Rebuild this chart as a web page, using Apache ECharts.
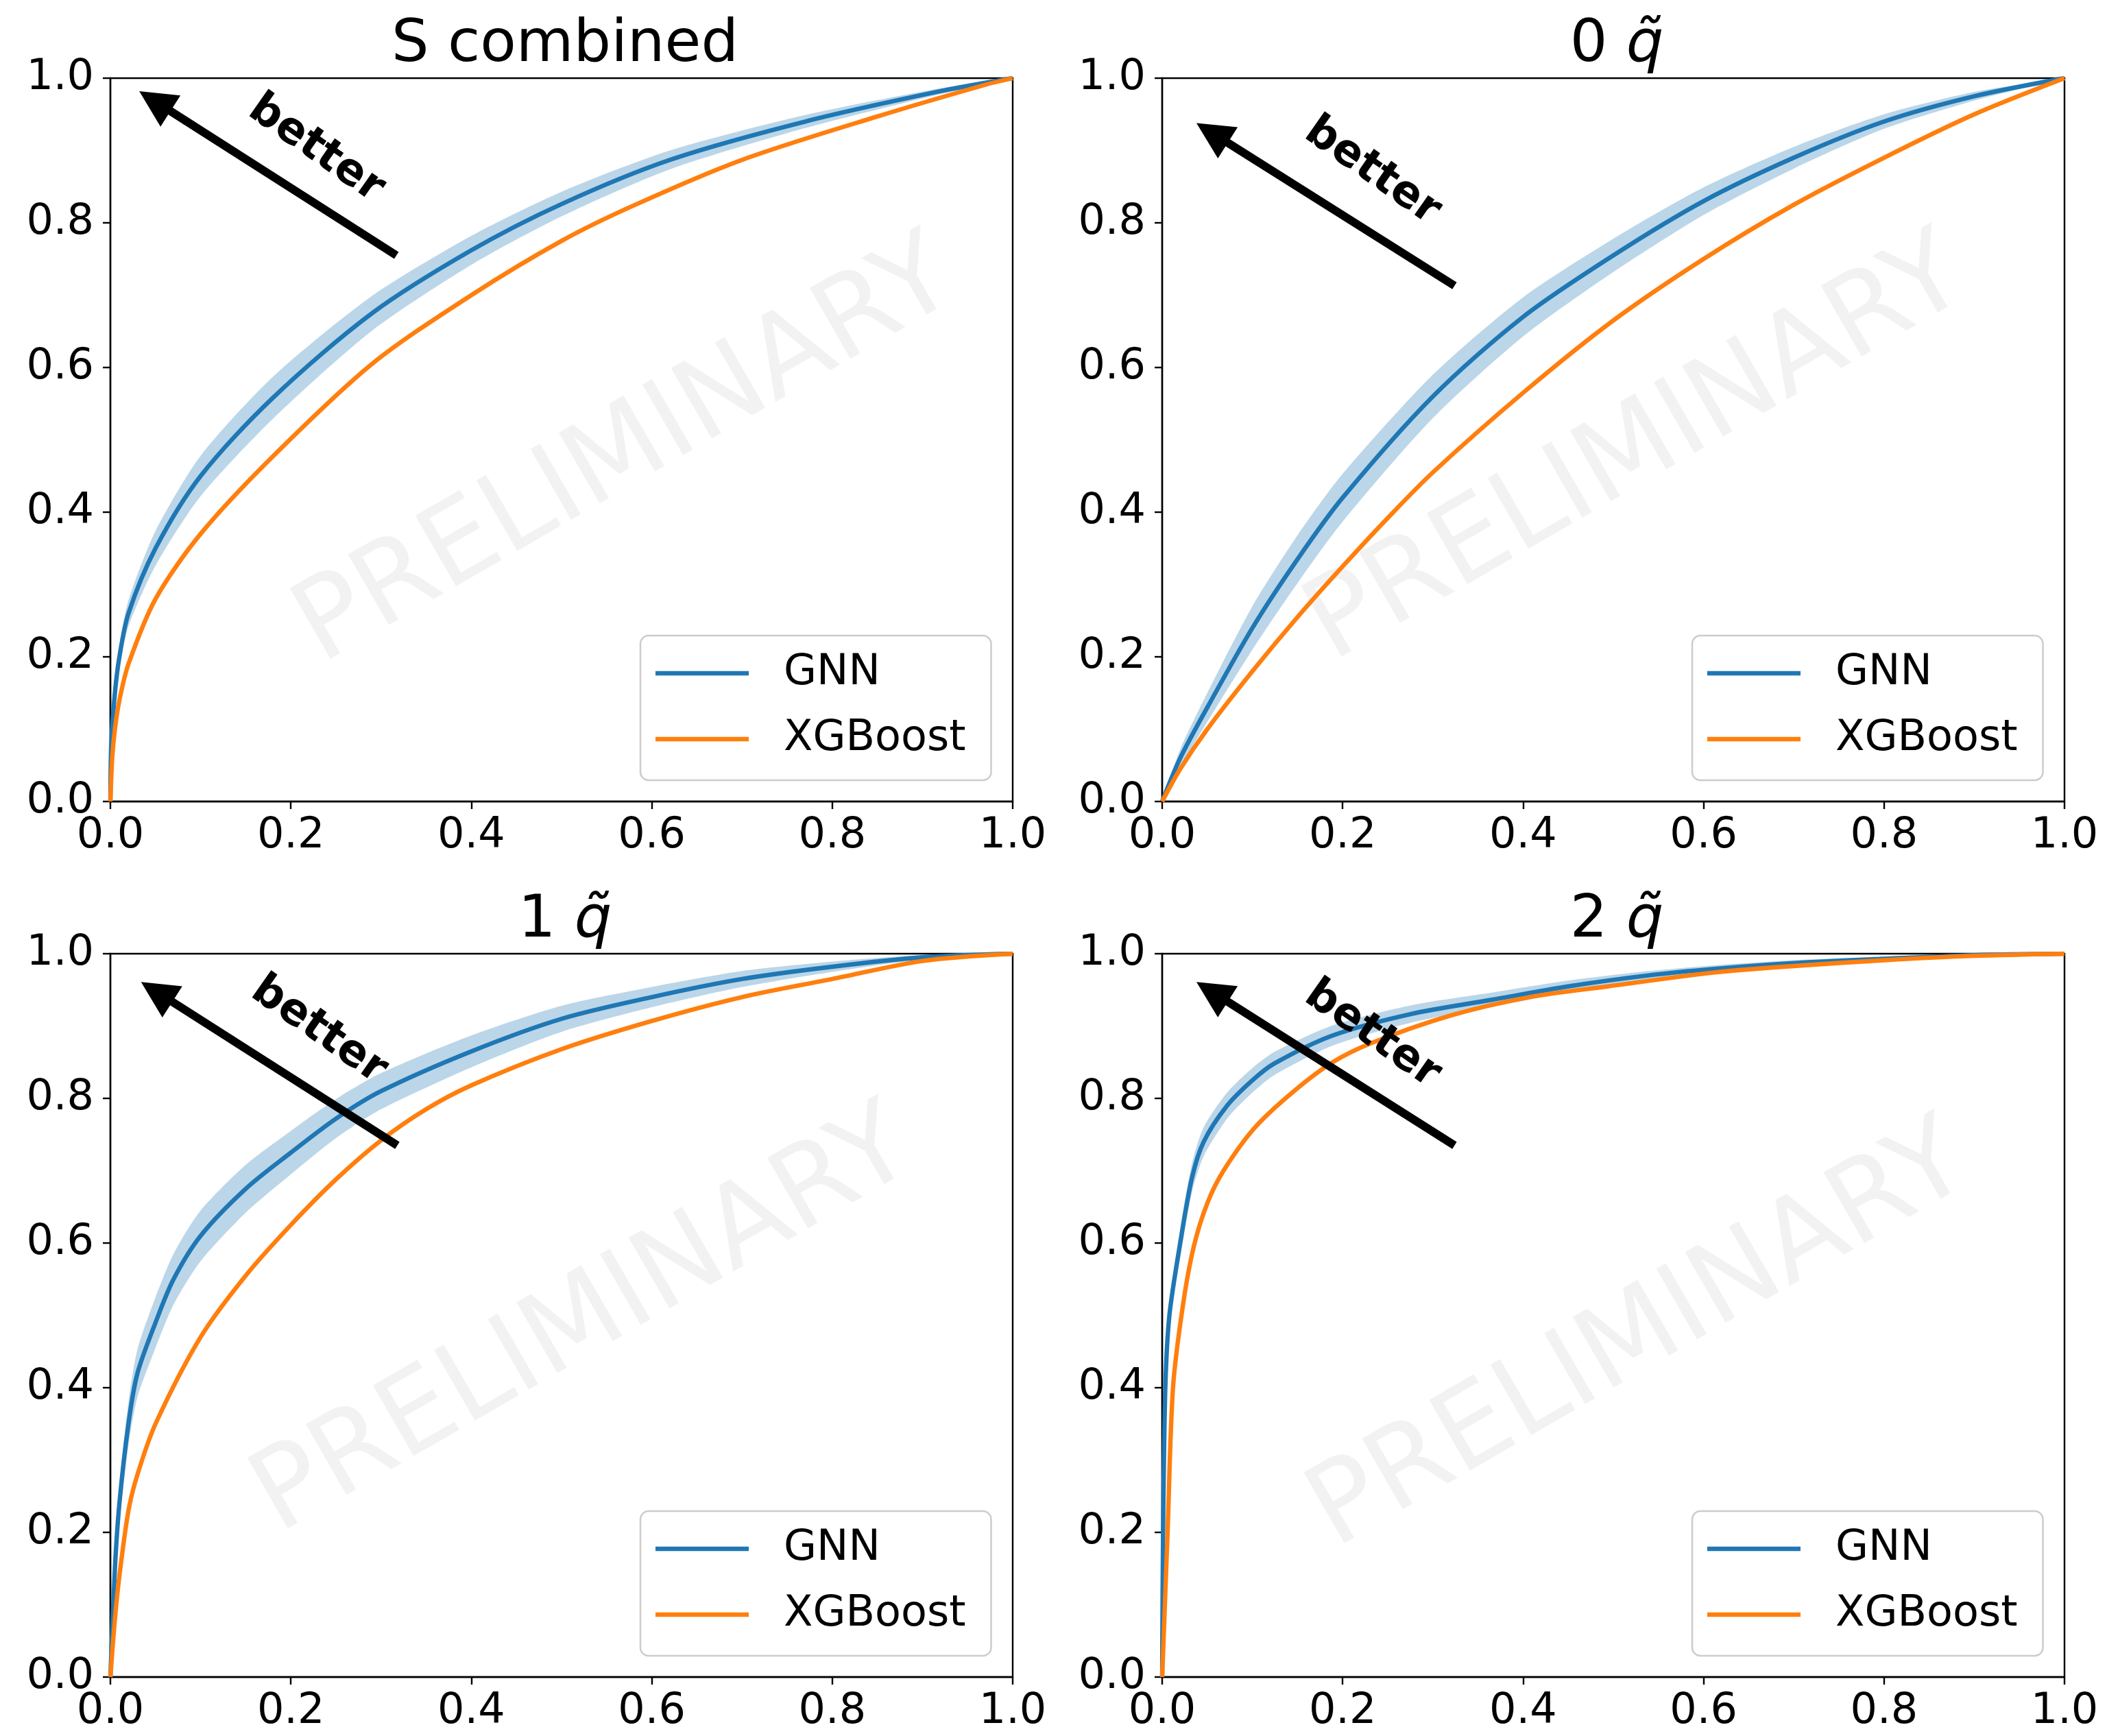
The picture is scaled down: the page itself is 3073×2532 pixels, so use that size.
<!DOCTYPE html>
<html>
<head>
<meta charset="utf-8">
<title>ROC curves: GNN vs XGBoost</title>
<script src="https://cdn.jsdelivr.net/npm/echarts@6.0.0/dist/echarts.min.js"></script>
<style>
  html, body { margin: 0; padding: 0; background: #fff; }
  #chart { width: 3073px; height: 2532px; }
</style>
</head>
<body>
<div id="chart"></div>
<script>
(function () {
  'use strict';

  // --- Data (x = false positive rate, y = true positive rate) ---
  const panelTitles = ['S combined', '0', '1', '2'];
  const seriesNames = ['GNN', 'XGBoost'];

  // S combined
  const gnnS_x = [0, 0.001, 0.005, 0.01, 0.02, 0.05, 0.1, 0.18, 0.29, 0.4, 0.5, 0.62, 0.77, 0.92, 1];
  const gnnS_y = [0, 0.08, 0.15, 0.2, 0.26, 0.35, 0.45, 0.558, 0.675, 0.762, 0.826, 0.887, 0.94, 0.982, 1];
  const bandS = [0, 0.008, 0.012, 0.015, 0.018, 0.024, 0.028, 0.029, 0.024, 0.02, 0.017, 0.013, 0.009, 0.004, 0];
  const xgbS_x = [0, 0.002, 0.005, 0.01, 0.02, 0.05, 0.1, 0.18, 0.29, 0.4, 0.5, 0.58, 0.7, 0.85, 0.97, 1];
  const xgbS_y = [0, 0.06, 0.1, 0.14, 0.19, 0.28, 0.37, 0.477, 0.605, 0.7, 0.775, 0.824, 0.887, 0.947, 0.991, 1];

  // 0 q~
  const gnn0_x = [0, 0.02, 0.05, 0.1, 0.15, 0.2, 0.3, 0.4, 0.5, 0.6, 0.7, 0.8, 0.9, 1];
  const gnn0_y = [0, 0.06, 0.13, 0.24, 0.335, 0.42, 0.56, 0.67, 0.755, 0.83, 0.89, 0.94, 0.975, 1];
  const band0 = [0, 0.012, 0.02, 0.03, 0.033, 0.033, 0.03, 0.027, 0.023, 0.019, 0.015, 0.01, 0.006, 0];
  const xgb0_x = [0, 0.02, 0.05, 0.1, 0.15, 0.2, 0.25, 0.3, 0.4, 0.5, 0.6, 0.7, 0.8, 0.9, 1];
  const xgb0_y = [0, 0.045, 0.1, 0.18, 0.255, 0.325, 0.392, 0.455, 0.565, 0.665, 0.75, 0.825, 0.89, 0.95, 1];

  // 1 q~
  const gnn1_x = [0, 0.005, 0.01, 0.02, 0.03, 0.05, 0.07, 0.1, 0.15, 0.2, 0.25, 0.3, 0.4, 0.5, 0.6, 0.7, 0.8, 0.9, 1];
  const gnn1_y = [0, 0.15, 0.24, 0.35, 0.42, 0.49, 0.55, 0.61, 0.675, 0.725, 0.772, 0.81, 0.865, 0.91, 0.94, 0.965, 0.982, 0.995, 1];
  const band1 = [0, 0.02, 0.025, 0.03, 0.033, 0.035, 0.035, 0.035, 0.033, 0.03, 0.027, 0.025, 0.022, 0.018, 0.014, 0.011, 0.007, 0.003, 0];
  const xgb1_x = [0, 0.005, 0.01, 0.02, 0.03, 0.05, 0.1, 0.15, 0.2, 0.25, 0.3, 0.35, 0.4, 0.5, 0.6, 0.7, 0.8, 0.9, 1];
  const xgb1_y = [0, 0.08, 0.14, 0.23, 0.28, 0.35, 0.47, 0.555, 0.625, 0.688, 0.742, 0.785, 0.818, 0.868, 0.907, 0.94, 0.965, 0.99, 1];

  // 2 q~
  const gnn2_x = [0, 0.001, 0.0035, 0.008, 0.02, 0.033, 0.046, 0.072, 0.1, 0.124, 0.189, 0.277, 0.364, 0.451, 0.539, 0.612, 0.7, 0.8, 0.9, 1];
  const gnn2_y = [0, 0.2, 0.4, 0.5, 0.6, 0.69, 0.74, 0.79, 0.825, 0.848, 0.887, 0.917, 0.936, 0.955, 0.97, 0.979, 0.987, 0.993, 0.998, 1];
  const band2 = [0, 0.01, 0.015, 0.018, 0.02, 0.02, 0.02, 0.018, 0.017, 0.016, 0.014, 0.012, 0.01, 0.008, 0.006, 0.005, 0.004, 0.003, 0.001, 0];
  const xgb2_x = [0, 0.003, 0.006, 0.012, 0.023, 0.035, 0.05, 0.068, 0.103, 0.146, 0.189, 0.233, 0.321, 0.407, 0.495, 0.612, 0.7, 0.8, 0.9, 1];
  const xgb2_y = [0, 0.1, 0.2, 0.4, 0.514, 0.595, 0.655, 0.7, 0.76, 0.81, 0.85, 0.877, 0.915, 0.94, 0.955, 0.974, 0.983, 0.991, 0.997, 1];

  // annotation anchors, in axes data coordinates
  const arrowTips = [[0.032, 0.982], [0.038, 0.938], [0.034, 0.961], [0.038, 0.961]];
  const arrowTails = [[0.317, 0.755], [0.324, 0.713], [0.318, 0.735], [0.324, 0.735]];
  const betterAt = [[0.228, 0.902], [0.233, 0.871], [0.231, 0.894], [0.233, 0.888]];
  const watermarkAt = [[0.572, 0.48], [0.527, 0.483], [0.525, 0.488], [0.53, 0.468]];

  const panels = [
    { gx: gnnS_x, gy: gnnS_y, band: bandS, xx: xgbS_x, xy: xgbS_y },
    { gx: gnn0_x, gy: gnn0_y, band: band0, xx: xgb0_x, xy: xgb0_y },
    { gx: gnn1_x, gy: gnn1_y, band: band1, xx: xgb1_x, xy: xgb1_y },
    { gx: gnn2_x, gy: gnn2_y, band: band2, xx: xgb2_x, xy: xgb2_y }
  ];

  // --- Layout ---
  const FONT = 'DejaVu Sans';
  const BLUE = '#1f77b4';
  const ORANGE = '#ff7f0e';
  const BAND = 'rgba(31, 119, 180, 0.3)';
  const PLOT_W = 1316;
  const PLOT_H = 1055;
  const gridPos = [[161, 114], [1695, 114], [161, 1391], [1695, 1391]];
  const legendPos = [[934, 927], [2468, 927], [934, 2204], [2468, 2204]];
  const SMOOTH = 0.3;
  const LINE_W = 6.4;

  const zip = (xs, ys) => xs.map((x, i) => [x, ys[i]]);
  const fmt = v => v.toFixed(1);

  // band polygon: upper edge left->right, then lower edge right->left
  function renderBand(params, api) {
    if (params.dataIndexInside !== 0) return null;
    const n = params.dataInsideLength;
    const upper = [], lower = [];
    for (let k = 0; k < n; k++) {
      const x = api.value(0, k);
      upper.push(api.coord([x, api.value(2, k)]));
      lower.push(api.coord([x, api.value(1, k)]));
    }
    return {
      type: 'polygon',
      shape: { points: upper.concat(lower.reverse()), smooth: 0.25 },
      style: { fill: BAND },
      silent: true
    };
  }

  const grid = [], xAxis = [], yAxis = [], series = [], legend = [], title = [];

  panels.forEach((p, i) => {
    const [left, top] = gridPos[i];
    grid.push({
      left: left, top: top, width: PLOT_W, height: PLOT_H,
      show: true, borderColor: '#000', borderWidth: 2.4, backgroundColor: 'transparent'
    });

    const axisCommon = {
      gridIndex: i, type: 'value', min: 0, max: 1, interval: 0.2,
      axisLine: { show: true, lineStyle: { color: '#000', width: 2.4 } },
      axisTick: { show: true, inside: false, length: 11, lineStyle: { color: '#000', width: 2.4 } },
      splitLine: { show: false },
      axisLabel: { fontFamily: FONT, fontSize: 62, color: '#000', formatter: fmt }
    };
    xAxis.push(Object.assign({}, axisCommon, {
      axisLabel: Object.assign({}, axisCommon.axisLabel, { margin: 20 })
    }));
    yAxis.push(Object.assign({}, axisCommon, {
      axisLabel: Object.assign({}, axisCommon.axisLabel, { margin: 24 })
    }));

    // confidence band of the GNN curve
    const bandData = p.gx.map((x, k) => [x, Math.max(0, p.gy[k] - p.band[k]), Math.min(1, p.gy[k] + p.band[k])]);
    series.push({
      type: 'custom', name: 'GNN band', xAxisIndex: i, yAxisIndex: i,
      data: bandData, encode: { x: 0, y: [1, 2] }, renderItem: renderBand,
      clip: true, silent: true, z: 1
    });

    const lineCommon = {
      type: 'line', xAxisIndex: i, yAxisIndex: i, symbol: 'none', showSymbol: false,
      smooth: SMOOTH, silent: true
    };
    series.push(Object.assign({}, lineCommon, {
      name: 'GNN', data: zip(p.gx, p.gy), color: BLUE,
      lineStyle: { color: BLUE, width: LINE_W }, itemStyle: { color: BLUE }, z: 3
    }));
    series.push(Object.assign({}, lineCommon, {
      name: 'XGBoost', data: zip(p.xx, p.xy), color: ORANGE,
      lineStyle: { color: ORANGE, width: LINE_W }, itemStyle: { color: ORANGE }, z: 4
    }));

    legend.push({
      data: seriesNames, orient: 'vertical', left: legendPos[i][0], top: legendPos[i][1],
      icon: 'rect', itemWidth: 136, itemHeight: LINE_W, itemGap: 26,
      selectedMode: false,
      backgroundColor: '#fff', borderColor: '#cccccc', borderWidth: 2.5, borderRadius: 12,
      padding: [20, 37, 25, 22],
      textStyle: { fontFamily: FONT, fontSize: 62, lineHeight: 70, color: '#000', padding: [0, 0, 0, 46] }
    });

    const t = panelTitles[i];
    title.push({
      text: i === 0 ? t : t + ' {q|q\u0303}',
      left: left + PLOT_W / 2, top: top - 95, textAlign: 'center',
      textStyle: {
        fontFamily: FONT, fontSize: 86, fontWeight: 'normal', color: '#000',
        rich: { q: { fontFamily: FONT, fontSize: 86, fontStyle: 'italic', color: '#000' } }
      }
    });
  });

  const chart = echarts.init(document.getElementById('chart'), null, { renderer: 'canvas' });
  chart.setOption({
    backgroundColor: '#fff',
    animation: false,
    title: title,
    legend: legend,
    grid: grid,
    xAxis: xAxis,
    yAxis: yAxis,
    series: series
  });

  // --- Annotations: watermark, "better" arrow and label, placed through the axes ---
  const graphics = [];
  panels.forEach((p, i) => {
    const w = chart.convertToPixel({ gridIndex: i }, watermarkAt[i]);
    graphics.push({
      type: 'text', x: w[0], y: w[1], rotation: Math.PI / 6, z: 0, silent: true,
      style: {
        text: 'PRELIMINARY', fill: '#f2f2f2', font: '163px "DejaVu Sans"',
        align: 'center', verticalAlign: 'middle'
      }
    });

    const tip = chart.convertToPixel({ gridIndex: i }, arrowTips[i]);
    const tail = chart.convertToPixel({ gridIndex: i }, arrowTails[i]);
    const dx = tip[0] - tail[0], dy = tip[1] - tail[1];
    const len = Math.hypot(dx, dy);
    const ux = dx / len, uy = dy / len;
    const headLen = 54, headHalf = 27;
    const bx = tip[0] - ux * headLen, by = tip[1] - uy * headLen;
    graphics.push({
      type: 'line', z: 10, silent: true,
      shape: { x1: tail[0], y1: tail[1], x2: bx + ux * 4, y2: by + uy * 4 },
      style: { stroke: '#000', lineWidth: 12, lineCap: 'butt' }
    });
    graphics.push({
      type: 'polygon', z: 10, silent: true,
      shape: { points: [tip, [bx - uy * headHalf, by + ux * headHalf], [bx + uy * headHalf, by - ux * headHalf]] },
      style: { fill: '#000' }
    });

    const b = chart.convertToPixel({ gridIndex: i }, betterAt[i]);
    graphics.push({
      type: 'text', x: b[0], y: b[1], rotation: -35 * Math.PI / 180, z: 10, silent: true,
      style: {
        text: 'better', fill: '#000', font: 'bold 64px "DejaVu Sans"',
        align: 'center', verticalAlign: 'middle'
      }
    });
  });
  chart.setOption({ graphic: graphics });
})();
</script>
</body>
</html>
